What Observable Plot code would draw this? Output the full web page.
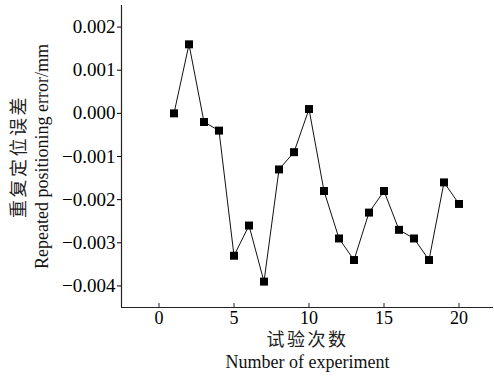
<!DOCTYPE html>
<html><head><meta charset="utf-8">
<script src="https://cdn.jsdelivr.net/npm/d3@7"></script>
<script src="https://cdn.jsdelivr.net/npm/@observablehq/plot@0.6"></script>
<style>body{margin:0;background:#fff} svg{display:block}</style>
</head><body><div id="chart"></div>
<script>
const experiments = [1,2,3,4,5,6,7,8,9,10,11,12,13,14,15,16,17,18,19,20];
const errors = [0.0000,0.0016,-0.0002,-0.0004,-0.0033,-0.0026,-0.0039,-0.0013,-0.0009,0.0001,
                -0.0018,-0.0029,-0.0034,-0.0023,-0.0018,-0.0027,-0.0029,-0.0034,-0.0016,-0.0021];
const xTicks = [0,5,10,15,20];
const yTicks = [-0.004,-0.003,-0.002,-0.001,0.000,0.001,0.002];
const xDomain = [-2.5, 22.3];
const yDomain = [-0.0045, 0.0025];
const xLabelZh = "试验次数";
const xLabelEn = "Number of experiment";
const yLabelZh = "重复定位误差";
const yLabelEn = "Repeated positioning error/mm";

const data = experiments.map((e, i) => ({e, v: errors[i]}));
const serif = "Liberation Serif, Times New Roman, serif";
const cjk = "Noto Sans CJK SC, sans-serif";

const chart = Plot.plot({
  width: 494,
  height: 379,
  marginLeft: 121,
  marginRight: 1,
  marginTop: 5,
  marginBottom: 72,
  style: {fontFamily: serif, fontSize: "18px", background: "#fff", color: "#000"},
  x: {domain: xDomain},
  y: {domain: yDomain},
  marks: [
    Plot.ruleX([xDomain[0]], {stroke: "#222", strokeWidth: 1.2}),
    Plot.ruleY([yDomain[0]], {stroke: "#222", strokeWidth: 1.2}),
    Plot.ruleX(xTicks, {stroke: "#222", insetTop: 298}),
    Plot.axisX({ticks: xTicks, tickSize: 0, tickPadding: 4, label: null, fontSize: 18}),
    Plot.axisY({ticks: yTicks, tickSize: 4, tickPadding: 2, label: null, tickFormat: d3.format(".3f"), fontSize: 19}),
    Plot.line(data, {x: "e", y: "v", stroke: "#111", strokeWidth: 1}),
    Plot.dot(data, {x: "e", y: "v", symbol: "square", r: 4.5, fill: "#000", stroke: "none"}),
    Plot.text([xLabelZh], {text: d => d, frameAnchor: "bottom", textAnchor: "middle", dy: 38, fontSize: 18, fill: "#222"}),
    Plot.text([xLabelEn], {text: d => d, frameAnchor: "bottom", textAnchor: "middle", dy: 60, fontSize: 18, fill: "#111"}),
    Plot.text([yLabelZh], {text: d => d, frameAnchor: "left", textAnchor: "middle", dx: -102, rotate: -90, fontSize: 18, fill: "#222"}),
    Plot.text([yLabelEn], {text: d => d, frameAnchor: "left", textAnchor: "middle", dx: -79, rotate: -90, fontSize: 18, fill: "#111"})
  ]
});
d3.select(chart).selectAll("text").each(function() {
  const zh = /[\u4e00-\u9fff]/.test(this.textContent);
  d3.select(this).style("font-family", zh ? cjk : serif);
  if (zh) d3.select(this).style("letter-spacing", "2.5px");
});
document.getElementById("chart").appendChild(chart);
</script>
</body></html>
